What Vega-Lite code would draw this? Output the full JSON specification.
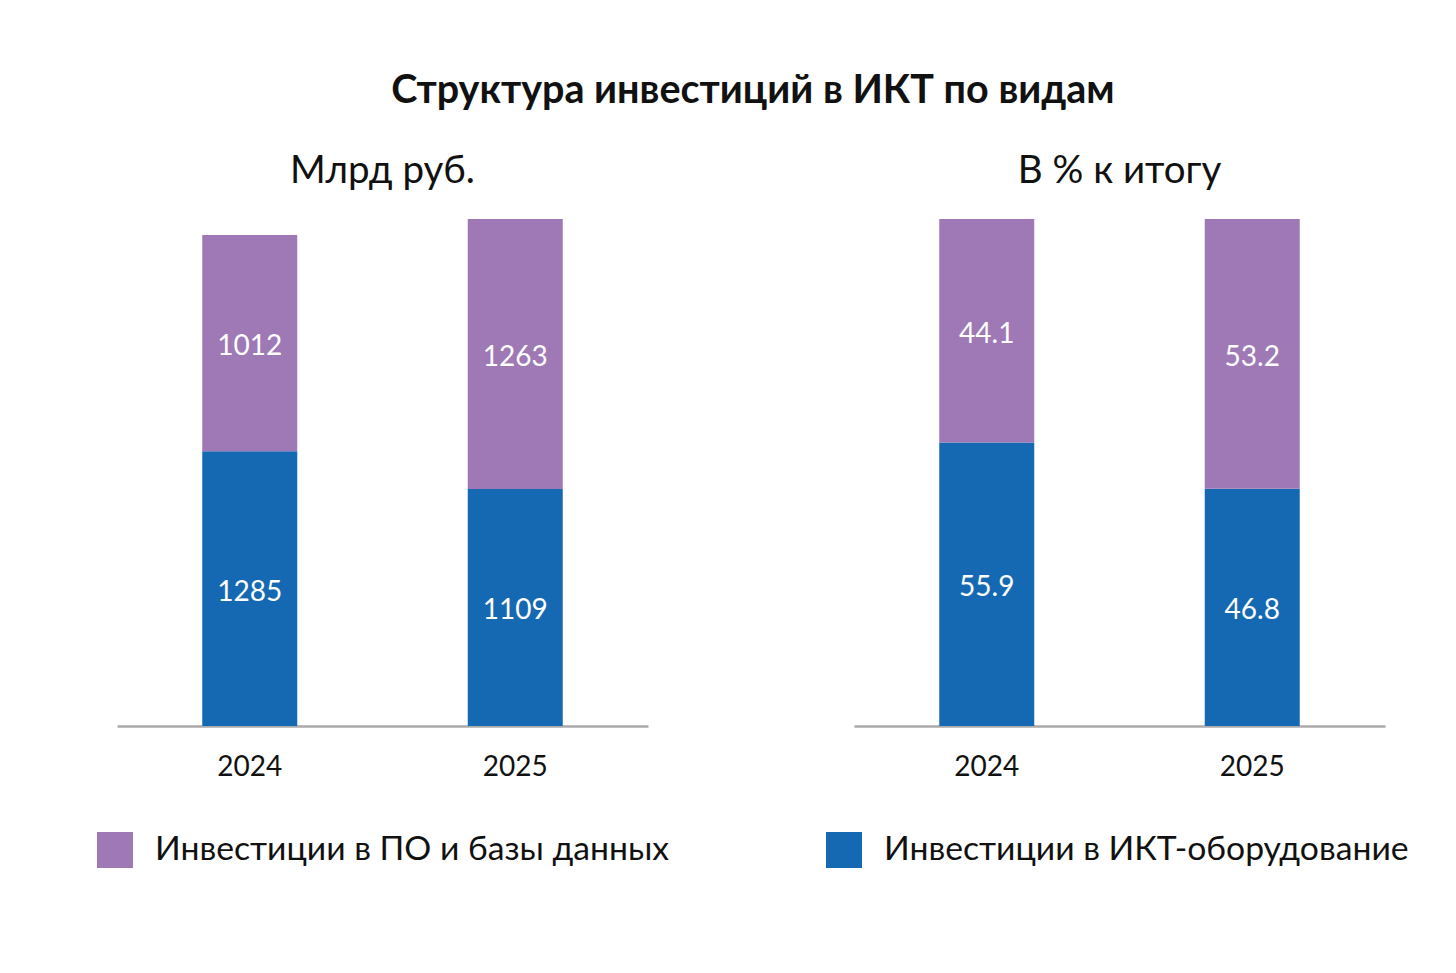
{
  "$schema": "https://vega.github.io/schema/vega-lite/v6.json",
  "background": "white",
  "padding": {"left": 97, "top": 71, "right": 20, "bottom": 20},
  "title": {
    "text": "Структура инвестиций в ИКТ по видам",
    "font": "Lato",
    "fontSize": 39.5,
    "fontWeight": "bold",
    "color": "#111111",
    "anchor": "middle",
    "offset": 40
  },
  "config": {
    "view": {"stroke": null},
    "font": "Lato",
    "title": {"font": "Lato", "fontSize": 38.5, "fontWeight": "normal", "color": "#111111", "offset": 28},
    "axisX": {
      "domainColor": "#AAAAAA",
      "domainWidth": 2.5,
      "ticks": false,
      "grid": false,
      "labelAngle": 0,
      "labelFont": "Lato",
      "labelFontSize": 28,
      "labelColor": "#111111",
      "labelPadding": 27,
      "title": null
    },
    "legend": {
      "orient": "none",
      "legendX": -20,
      "legendY": 613,
      "direction": "horizontal",
      "columns": 2,
      "title": null,
      "symbolType": "square",
      "symbolSize": 1296,
      "symbolStrokeWidth": 0,
      "symbolOpacity": 1,
      "labelFont": "Lato",
      "labelFontSize": 33.7,
      "labelColor": "#111111",
      "labelOffset": 22,
      "labelLimit": 700,
      "columnPadding": 156
    }
  },
  "datasets": {
    "bln": [
      {"year": "2024", "type": "Инвестиции в ИКТ-оборудование", "value": 1285},
      {"year": "2024", "type": "Инвестиции в ПО и базы данных", "value": 1012},
      {"year": "2025", "type": "Инвестиции в ИКТ-оборудование", "value": 1109},
      {"year": "2025", "type": "Инвестиции в ПО и базы данных", "value": 1263}
    ],
    "pct": [
      {"year": "2024", "type": "Инвестиции в ИКТ-оборудование", "value": 55.9},
      {"year": "2024", "type": "Инвестиции в ПО и базы данных", "value": 44.1},
      {"year": "2025", "type": "Инвестиции в ИКТ-оборудование", "value": 46.8},
      {"year": "2025", "type": "Инвестиции в ПО и базы данных", "value": 53.2}
    ]
  },
  "spacing": 206,
  "hconcat": [
    {
      "title": "Млрд руб.",
      "width": 531,
      "height": 507,
      "data": {"name": "bln"},
      "transform": [
        {"stack": "value", "groupby": ["year"], "sort": [{"field": "type", "order": "ascending"}], "as": ["v0", "v1"]},
        {"calculate": "(datum.v0 + datum.v1) / 2", "as": "mid"}
      ],
      "encoding": {
        "x": {"field": "year", "type": "nominal", "scale": {"paddingInner": 0, "paddingOuter": 0}}
      },
      "layer": [
        {
          "mark": {"type": "bar", "size": 95},
          "encoding": {
            "y": {"field": "v0", "type": "quantitative", "scale": {"domain": [0, 2372], "nice": false}, "axis": null},
            "y2": {"field": "v1"},
            "color": {
              "field": "type",
              "type": "nominal",
              "scale": {
                "domain": ["Инвестиции в ПО и базы данных", "Инвестиции в ИКТ-оборудование"],
                "range": ["#9E79B6", "#1569B3"]
              }
            }
          }
        },
        {
          "mark": {"type": "text", "color": "white", "fontSize": 28, "font": "Lato", "baseline": "middle", "align": "center", "dy": 4},
          "encoding": {
            "y": {"field": "mid", "type": "quantitative"},
            "text": {"field": "value", "type": "quantitative", "format": "d"}
          }
        }
      ]
    },
    {
      "title": "В % к итогу",
      "width": 531,
      "height": 507,
      "data": {"name": "pct"},
      "transform": [
        {"stack": "value", "groupby": ["year"], "sort": [{"field": "type", "order": "ascending"}], "as": ["v0", "v1"]},
        {"calculate": "(datum.v0 + datum.v1) / 2", "as": "mid"}
      ],
      "encoding": {
        "x": {"field": "year", "type": "nominal", "scale": {"paddingInner": 0, "paddingOuter": 0}}
      },
      "layer": [
        {
          "mark": {"type": "bar", "size": 95},
          "encoding": {
            "y": {"field": "v0", "type": "quantitative", "scale": {"domain": [0, 100], "nice": false}, "axis": null},
            "y2": {"field": "v1"},
            "color": {
              "field": "type",
              "type": "nominal",
              "scale": {
                "domain": ["Инвестиции в ПО и базы данных", "Инвестиции в ИКТ-оборудование"],
                "range": ["#9E79B6", "#1569B3"]
              }
            }
          }
        },
        {
          "mark": {"type": "text", "color": "white", "fontSize": 28, "font": "Lato", "baseline": "middle", "align": "center", "dy": 4},
          "encoding": {
            "y": {"field": "mid", "type": "quantitative"},
            "text": {"field": "value", "type": "quantitative", "format": ".1f"}
          }
        }
      ]
    }
  ],
  "resolve": {"scale": {"y": "independent"}}
}
